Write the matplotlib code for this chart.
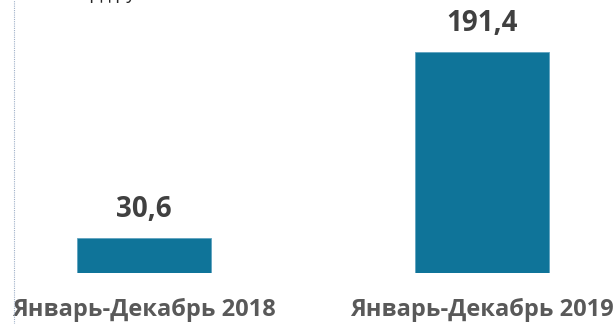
import matplotlib
matplotlib.use("Agg")
import matplotlib.pyplot as plt
from matplotlib.lines import Line2D

categories = ["Январь-Декабрь 2018", "Январь-Декабрь 2019"]
values = [30.6, 191.4]
value_labels = ["30,6", "191,4"]
unit_label = "млрд руб."

plt.rcParams["font.family"] = ["Open Sans", "DejaVu Sans"]

W, H, DPI = 616, 324, 100
fig = plt.figure(figsize=(W / DPI, H / DPI), dpi=DPI)

left_px, base_px = 14, 273
ax = fig.add_axes([left_px / W, (H - base_px) / H, (W - left_px) / W, base_px / H])

bar_color = "#0F7499"
x = range(len(values))
ax.bar(x, values, width=0.397, color=bar_color, edgecolor="#5FA3C0", linewidth=0.6)

ax.set_xlim(-0.385, 1.398)
ax.set_ylim(0, 236.4)
ax.axis("off")

for xi, v, lab in zip(x, values, value_labels):
    ax.annotate(lab, (xi, v), xytext=(0, 15), textcoords="offset points",
                ha="center", va="baseline", fontsize=20, fontweight="bold",
                color="#404040")

for xi, cat in zip(x, categories):
    ax.annotate(cat, (xi, 0), xytext=(0, -31), textcoords="offset points",
                ha="center", va="baseline", fontsize=17, fontweight="bold",
                color="#595959", annotation_clip=False)

# dotted vertical guide along the left edge
fig.add_artist(Line2D([left_px / W, left_px / W], [0, 1], transform=fig.transFigure,
                      color="#9FB0C8", linewidth=0.8, linestyle=(0, (1, 1))))

# unit caption sits above the top edge, only descenders remain in view
fig.text(66 / W, 1 + 1 / H, unit_label, ha="left", va="baseline",
         fontsize=13, color="#262626")

fig.savefig("out.png", dpi=DPI)
